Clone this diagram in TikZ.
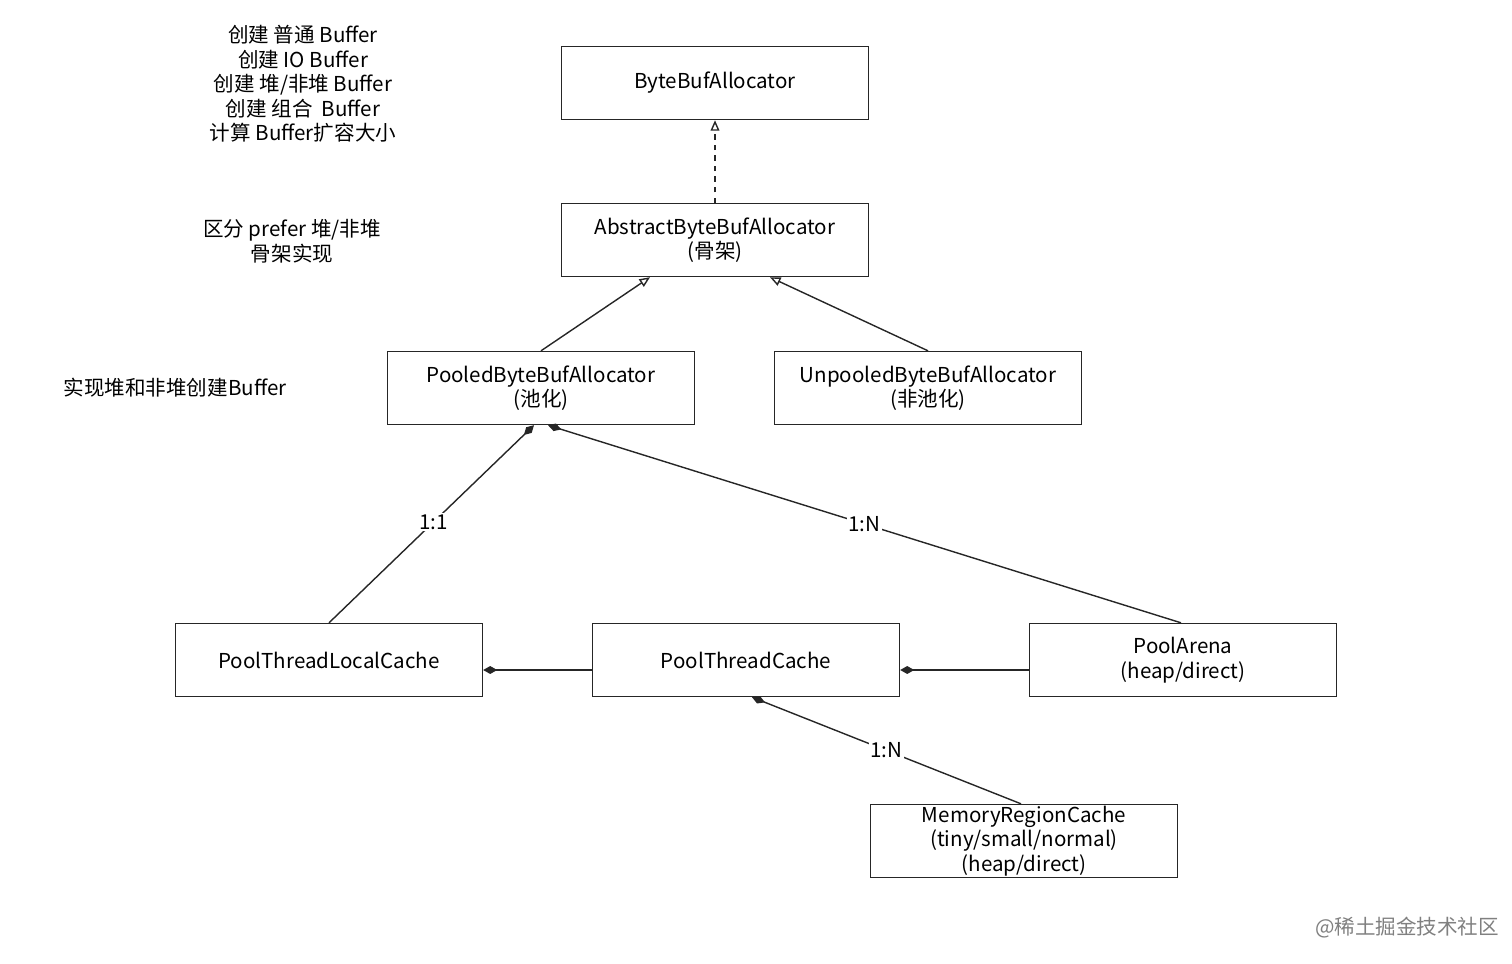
\documentclass[tikz,border=0pt]{standalone}
\usepackage{fontspec}
\setmainfont{Noto Sans CJK SC}
\usetikzlibrary{positioning,arrows.meta}
\tikzset{
	cls/.style={draw=black!85,thick,minimum width=6.14cm,minimum height=1.46cm,align=center,inner sep=0pt,font=\fontsize{11.7pt}{14pt}\selectfont},
	note/.style={align=center,font=\fontsize{11.7pt}{14pt}\selectfont},
	impl/.style={-{Triangle[open,length=6pt,width=5pt]},thick,dashed,draw=black!85},
	inh/.style={-{Triangle[open,length=6pt,width=5pt]},thick,draw=black!85},
	comp/.style={{Diamond[length=8pt,width=4.5pt]}-,thick,draw=black!85},
	lbl/.style={fill=white,inner sep=1pt,font=\fontsize{11.7pt}{14pt}\selectfont}
}
\begin{document}
\begin{tikzpicture}[x=0.02cm,y=-0.02cm]
	\useasboundingbox (0,0) rectangle (1512,964);
	\node[cls] (alloc)    at (715,83)   {ByteBufAllocator};
	\node[cls] (abstract) at (715,240)  {AbstractByteBufAllocator\\(骨架)};
	\node[cls] (pooled)   at (541,388)  {PooledByteBufAllocator\\(池化)};
	\node[cls] (unpooled) at (928,388)  {UnpooledByteBufAllocator\\(非池化)};
	\node[cls] (tlcache)  at (329,660)  {PoolThreadLocalCache};
	\node[cls] (tcache)   at (746,660)  {PoolThreadCache};
	\node[cls] (arena)    at (1183,660) {PoolArena\\(heap/direct)};
	\node[cls] (region)   at (1024,841) {MemoryRegionCache\\(tiny/small/normal)\\(heap/direct)};

	\node[note] (n1) at (303,84)  {创建 普通 Buffer\\创建 IO Buffer\\创建 堆/非堆 Buffer\\创建 组合 \ Buffer\\计算 Buffer扩容大小};
	\node[note] (n2) at (292,241) {区分 prefer 堆/非堆\\骨架实现};
	\node[note] (n3) at (175,388) {实现堆和非堆创建Buffer};
	\node[note,text=gray] (mark) at (1407,928) {@稀土掘金技术社区};

	\draw[impl] (abstract.north) -- (alloc.south);
	\draw[inh] (pooled.north) -- ([xshift=-1.3cm]abstract.south);
	\draw[inh] (unpooled.north) -- ([xshift=1.1cm]abstract.south);
	\draw[comp] ([xshift=-0.14cm]pooled.south) -- node[lbl,pos=0.49]{1:1} (tlcache.north);
	\draw[comp] ([xshift=0.14cm]pooled.south) -- node[lbl,pos=0.5]{1:N} ([xshift=-0.04cm]arena.north);
	\draw[comp] ([yshift=-0.2cm]tlcache.east) -- ([yshift=-0.2cm]tcache.west);
	\draw[comp] ([yshift=-0.2cm]tcache.east) -- ([yshift=-0.2cm]arena.west);
	\draw[comp] ([xshift=0.12cm]tcache.south) -- node[lbl,pos=0.5]{1:N} ([xshift=-0.06cm]region.north);
\end{tikzpicture}
\end{document}
